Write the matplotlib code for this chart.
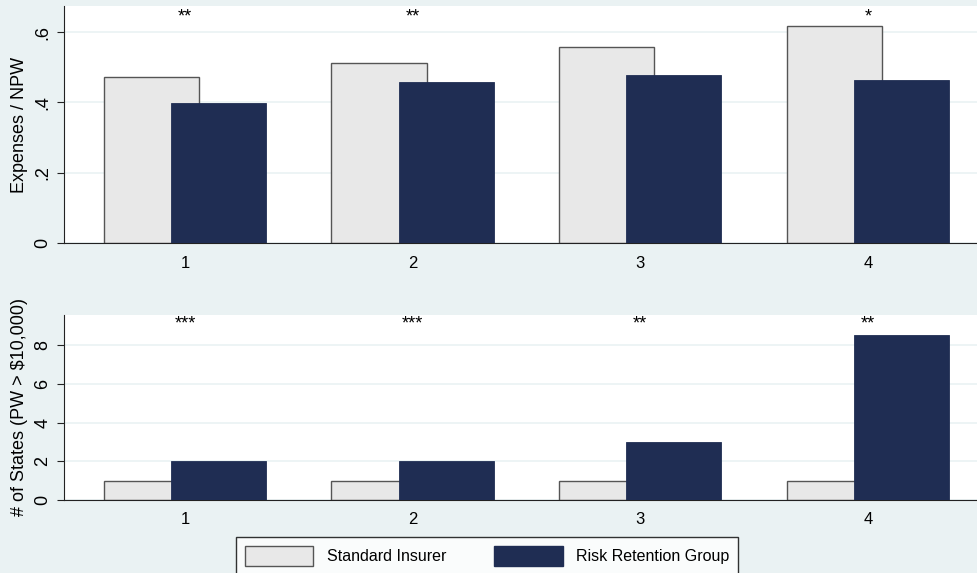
import numpy as np
import matplotlib.pyplot as plt
from matplotlib.patches import Patch

plt.rcParams['font.family'] = ['Liberation Sans', 'DejaVu Sans']

groups = [1, 2, 3, 4]
series = ['Standard Insurer', 'Risk Retention Group']

# expenses / net premiums written
exp_std = [0.472, 0.512, 0.558, 0.616]
exp_rrg = [0.399, 0.458, 0.477, 0.463]
exp_stars = ['**', '**', '', '*']

# number of states with premiums written above $10,000
states_std = [1, 1, 1, 1]
states_rrg = [2, 2, 3, 8.5]
states_stars = ['***', '***', '**', '**']

bg = '#eaf2f3'
light = '#e8e8e8'
navy = '#1f2d53'

fig = plt.figure(figsize=(9.77, 5.73), dpi=100, facecolor=bg)
ax1 = fig.add_axes([0.0655, 0.5759, 0.9345, 0.4136])
ax2 = fig.add_axes([0.0655, 0.1274, 0.9345, 0.3229])

x = np.array(groups)
w = 0.418
off = 0.148


def panel(ax, std, rrg, stars, ymax, yticks, ylabels, ylab, star_y):
    ax.set_facecolor('white')
    ax.bar(x - off, std, w, color=light, edgecolor='#555555', linewidth=1, zorder=2)
    ax.bar(x + off, rrg, w, color=navy, edgecolor=navy, linewidth=0.6, zorder=3)
    for xi, s in zip(x, stars):
        if s:
            ax.text(xi, star_y, s, ha='center', va='center', fontsize=13)
    ax.set_xlim(0.468, 4.48)
    ax.set_ylim(0, ymax)
    ax.set_yticks(yticks)
    ax.set_yticklabels(ylabels, rotation=90, va='center', fontsize=13)
    ax.set_xticks(x)
    ax.set_xticklabels([str(g) for g in groups], fontsize=12)
    ax.set_ylabel(ylab, fontsize=13, labelpad=5)
    ax.grid(axis='y', color=bg, linewidth=1.2, zorder=0)
    ax.set_axisbelow(True)
    for s in ['top', 'right']:
        ax.spines[s].set_visible(False)
    ax.spines['left'].set_color('#222222')
    ax.spines['bottom'].set_color('#222222')
    ax.tick_params(axis='y', length=5, color='#222222', pad=4)
    ax.tick_params(axis='x', length=0, pad=9)


panel(ax1, exp_std, exp_rrg, exp_stars, 0.674, [0, 0.2, 0.4, 0.6],
      ['0', '.2', '.4', '.6'], 'Expenses / NPW', 0.642)
panel(ax2, states_std, states_rrg, states_stars, 9.55, [0, 2, 4, 6, 8],
      ['0', '2', '4', '6', '8'], r'# of States (PW > \$10,000)', 9.1)

handles = [Patch(facecolor=light, edgecolor='#555555', linewidth=1),
           Patch(facecolor=navy, edgecolor=navy)]
leg = fig.legend(handles, series, loc='upper center', bbox_to_anchor=(0.4985, 1 - 537 / 573),
                 ncol=2, fontsize=11.5, frameon=True, fancybox=False,
                 handlelength=4.3, handleheight=1.6, handletextpad=0.85,
                 columnspacing=3.0, borderpad=0.55, borderaxespad=0)
leg.get_frame().set_edgecolor('black')
leg.get_frame().set_linewidth(1)

fig.savefig('out.png', dpi=100, facecolor=bg)
